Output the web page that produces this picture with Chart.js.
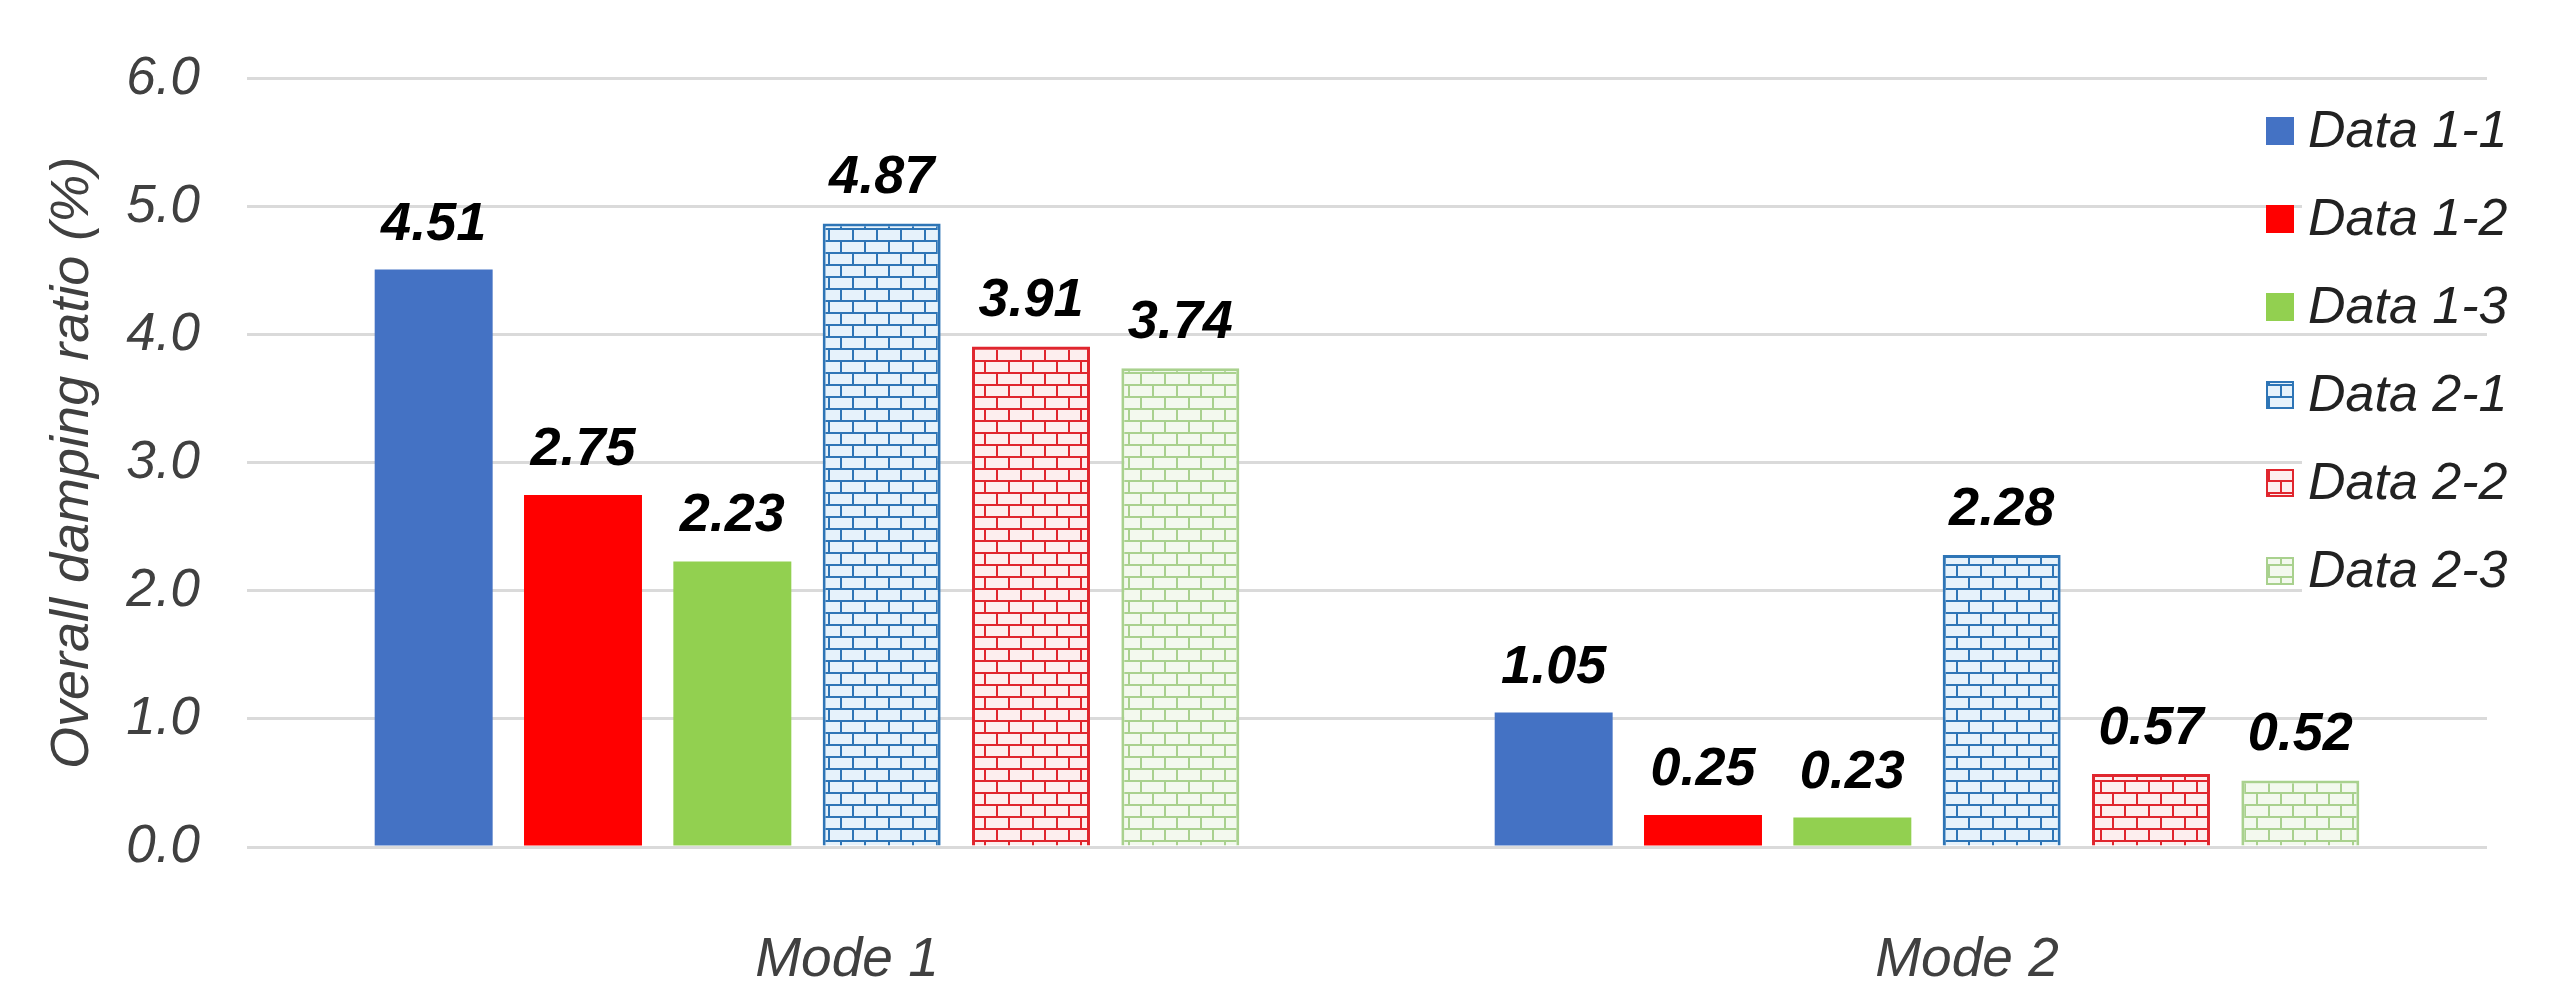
<!DOCTYPE html>
<html>
<head>
<meta charset="utf-8">
<script src="https://cdn.jsdelivr.net/npm/chart.js@4.4.0/dist/chart.umd.min.js"></script>
<style>
  html, body { margin: 0; padding: 0; background: #fff; }
  #wrap { width: 2576px; height: 1003px; }
</style>
</head>
<body>
<div id="wrap"><canvas id="dampingChart" width="2576" height="1003"></canvas></div>
<script>
const modes = ['Mode 1', 'Mode 2'];
const seriesNames = ['Data 1-1', 'Data 1-2', 'Data 1-3', 'Data 2-1', 'Data 2-2', 'Data 2-3'];
const data11 = [4.51, 1.05];
const data12 = [2.75, 0.25];
const data13 = [2.23, 0.23];
const data21 = [4.87, 2.28];
const data22 = [3.91, 0.57];
const data23 = [3.74, 0.52];
const yAxisTitle = 'Overall damping ratio (%)';

const FONT = 'Liberation Sans, Arial, sans-serif';
Chart.defaults.font.family = FONT;

const canvas = document.getElementById('dampingChart');
const ctx = canvas.getContext('2d');

// Excel-like "horizontal brick" fill
function brickPattern(line, brick) {
    const c = document.createElement('canvas');
    c.width = 24;
    c.height = 24;
    const g = c.getContext('2d');
    g.fillStyle = brick;
    g.fillRect(0, 0, 24, 24);
    g.fillStyle = line;
    g.fillRect(0, 0, 24, 2);
    g.fillRect(0, 12, 24, 2);
    g.fillRect(0, 0, 2, 12);
    g.fillRect(12, 12, 2, 12);
    return ctx.createPattern(c, 'repeat');
}

const solid = (label, data, color) => ({
    label, data, backgroundColor: color, borderWidth: 0
});
const brick = (label, data, line, fill) => ({
    label, data, backgroundColor: brickPattern(line, fill), borderColor: line, borderWidth: 3
});

// value labels above each bar
const valueLabels = {
    id: 'valueLabels',
    afterDatasetsDraw(chart) {
        const c = chart.ctx;
        c.save();
        c.font = 'italic bold 54px ' + FONT;
        c.fillStyle = '#000';
        c.textAlign = 'center';
        c.textBaseline = 'alphabetic';
        chart.data.datasets.forEach((ds, i) => {
            chart.getDatasetMeta(i).data.forEach((bar, j) => {
                c.fillText(ds.data[j].toFixed(2), bar.x, bar.y - 30);
            });
        });
        c.restore();
    }
};

// legend sits inside the plot area, on top of the gridlines
const legendBox = {
    id: 'legendBox',
    afterDraw(chart) {
        const c = chart.ctx;
        c.save();
        c.font = 'italic 52px ' + FONT;
        c.textBaseline = 'middle';
        chart.data.datasets.forEach((ds, i) => {
            const y = 131 + i * 88;
            const w = c.measureText(ds.label).width;
            c.fillStyle = '#fff';
            c.fillRect(2302, y - 22, w + 14, 44);
            c.fillStyle = ds.backgroundColor;
            c.fillRect(2266, y - 14, 28, 28);
            if (ds.borderWidth) {
                c.strokeStyle = ds.borderColor;
                c.lineWidth = 2;
                c.strokeRect(2267, y - 13, 26, 26);
            }
            c.fillStyle = '#222';
            c.fillText(ds.label, 2308, y + 2);
        });
        c.restore();
    }
};

new Chart(ctx, {
    type: 'bar',
    data: {
        labels: modes,
        datasets: [
            solid(seriesNames[0], data11, '#4472c4'),
            solid(seriesNames[1], data12, '#ff0000'),
            solid(seriesNames[2], data13, '#92d050'),
            brick(seriesNames[3], data21, '#2e75b6', '#e6f2fb'),
            brick(seriesNames[4], data22, '#e0262e', '#fdeeee'),
            brick(seriesNames[5], data23, '#a9d18e', '#f3f9ee')
        ]
    },
    options: {
        responsive: false,
        animation: false,
        devicePixelRatio: 1,
        categoryPercentage: 0.8,
        barPercentage: 0.79,
        layout: { padding: { left: 41, right: 89, top: 73, bottom: 0 } },
        scales: {
            x: {
                grid: { display: false },
                border: { display: false },
                ticks: {
                    color: '#404040',
                    padding: 73,
                    labelOffset: 40,
                    font: { size: 55, style: 'italic', lineHeight: 1.2 }
                },
                afterFit: s => { s.height = 156; }
            },
            y: {
                min: 0,
                max: 6,
                grid: { color: '#dadada', lineWidth: 3, drawTicks: false },
                border: { display: false },
                ticks: {
                    stepSize: 1,
                    color: '#404040',
                    padding: 47,
                    font: { size: 53, style: 'italic' },
                    callback: v => v.toFixed(1)
                },
                title: {
                    display: true,
                    text: yAxisTitle,
                    color: '#404040',
                    padding: { top: 0, bottom: 0 },
                    font: { size: 54, style: 'italic', lineHeight: 1.2 }
                },
                afterFit: s => { s.width = 206; }
            }
        },
        plugins: {
            legend: { display: false },
            tooltip: { enabled: false }
        }
    },
    plugins: [valueLabels, legendBox]
});
</script>
</body>
</html>
